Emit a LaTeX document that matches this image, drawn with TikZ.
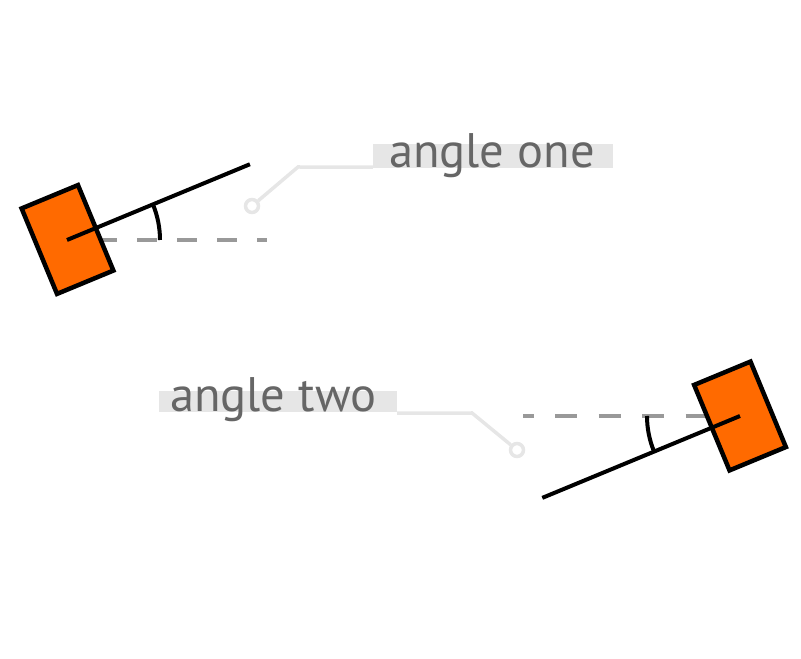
\documentclass[tikz,border=0pt]{standalone}
\usepackage{fontspec}
\setmainfont{PT Sans}
\definecolor{boxorange}{RGB}{255,106,0}
\definecolor{dashgray}{RGB}{153,153,153}
\definecolor{calloutgray}{RGB}{230,230,230}
\definecolor{textgray}{RGB}{102,102,102}
\tikzset{
  block/.style={rectangle, draw=black, fill=boxorange, line width=4.5pt, minimum width=61pt, minimum height=92.5pt, inner sep=0pt, rotate=22.5},
  arm/.style={draw=black, line width=4pt},
  refline/.style={draw=dashgray, line width=4pt},
  callout/.style={draw=calloutgray, line width=3.5pt},
  pin/.style={circle, draw=calloutgray, fill=white, line width=3.5pt, minimum size=13pt, inner sep=0pt},
  labelbox/.style={rectangle, fill=calloutgray, inner sep=0pt},
  labeltext/.style={anchor=base west, inner sep=0pt, text=textgray, font=\fontsize{48.5}{52}\selectfont}
}
\begin{document}
\begin{tikzpicture}[x=1pt,y=1pt]
\useasboundingbox (0,0) rectangle (801,659);
% ---- angle one ----
\coordinate (d1s) at (57,419);
\coordinate (d1e) at (267,419);
\draw[refline, dash pattern=on 20pt off 20pt] (d1s) -- (d1e);
\node[block] (r1) at (67.5,419.5) {};
\coordinate (a1) at (67,419);
\draw[arm] (a1) -- ++(22.5:198) coordinate (a1e);
\draw[arm] (160,419) arc[start angle=0, end angle=22.5, radius=93];
% callout one
\node[labelbox, minimum width=240pt, minimum height=24pt] (b1) at (493,503) {};
\node[labeltext] (t1) at (389,491) {angle one};
\node[pin] (p1) at (252,453) {};
\coordinate (k1) at (298,492);
\coordinate (k1e) at (b1.south west);
\draw[callout] (p1) -- (k1) -- ([yshift=1pt]k1e);
% ---- angle two ----
\coordinate (d2s) at (523,243);
\coordinate (d2e) at (740,243);
\draw[refline, dash pattern=on 22pt off 21.5pt, dash phase=11.5pt] (d2s) -- (d2e);
\node[block] (r2) at (740,243) {};
\coordinate (a2) at (740,243);
\draw[arm] (a2) -- ++(202.5:214) coordinate (a2e);
\draw[arm] (647,243) arc[start angle=180, end angle=202.5, radius=93];
% callout two
\node[labelbox, minimum width=238pt, minimum height=21pt] (b2) at (278,257.5) {};
\node[labeltext] (t2) at (170,247) {angle two};
\node[pin] (p2) at (517,209) {};
\coordinate (k2) at (472,246);
\coordinate (k2e) at (b2.south east);
\draw[callout] (p2) -- (k2) -- ([yshift=-1pt]k2e);
\end{tikzpicture}
\end{document}
